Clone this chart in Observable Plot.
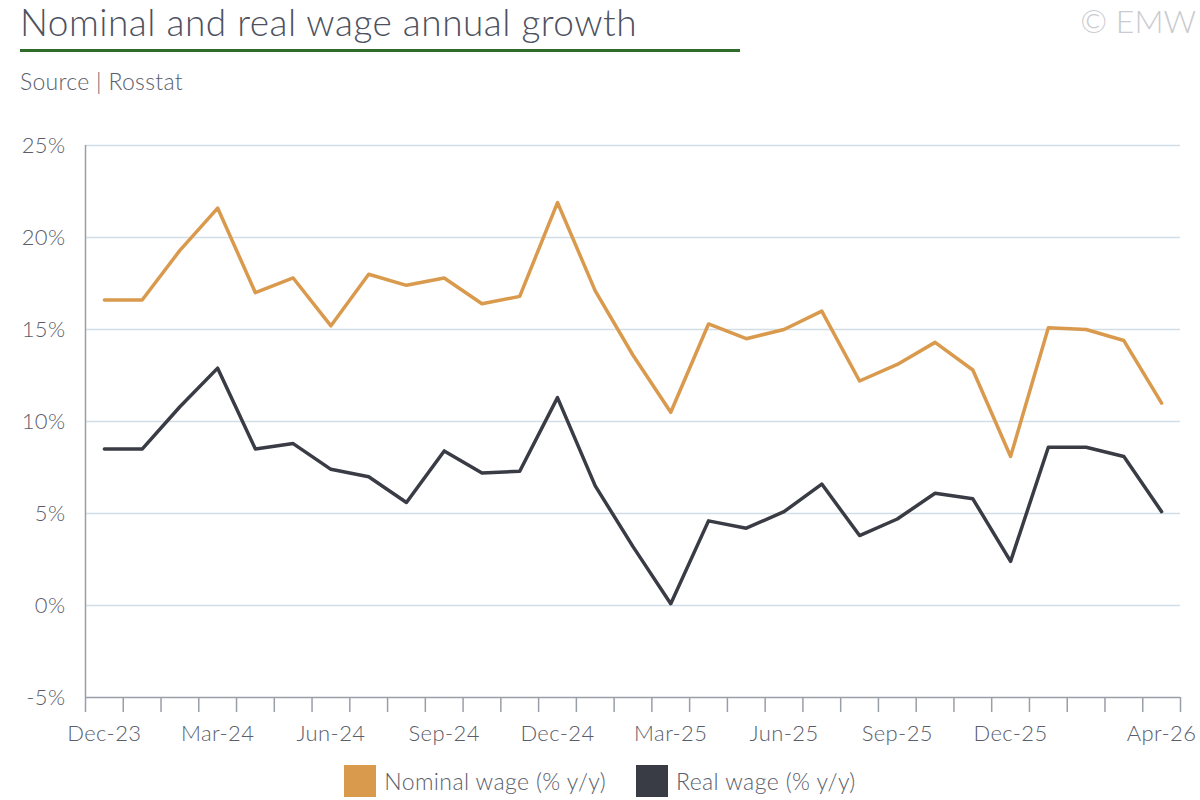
<!DOCTYPE html>
<html><head><meta charset="utf-8">
<script src="https://cdn.jsdelivr.net/npm/d3@7"></script>
<script src="https://cdn.jsdelivr.net/npm/@observablehq/plot@0.6"></script>
<style>
body{margin:0;background:#fff;font-family:Lato,sans-serif;color:#5a5e6b;}
#wrap{position:relative;width:1200px;height:800px;}
#title{position:absolute;left:20px;top:1px;font-size:37px;line-height:42px;font-weight:300;color:#4d5160;letter-spacing:0.5px;}
#rule{position:absolute;left:20px;top:49px;width:720px;height:3px;background:#2f6b2a;}
#src{position:absolute;left:20px;top:67px;font-size:23px;font-weight:300;letter-spacing:0.3px;}
#copy{position:absolute;right:4px;top:2px;font-size:32px;line-height:38px;font-weight:300;color:#c9cbd0;}
#chart{position:absolute;left:0;top:120px;}
#legend{position:absolute;left:0;width:1200px;top:767px;display:flex;justify-content:center;gap:30px;font-size:23px;font-weight:300;letter-spacing:0.4px;}
.sw{display:inline-block;width:32px;height:32px;vertical-align:middle;margin-right:8px;position:relative;top:-3px}
</style></head><body>
<div id="wrap">
<div id="title">Nominal and real wage annual growth</div>
<div id="rule"></div>
<div id="src">Source | Rosstat</div>
<div id="copy">© EMW</div>
<div id="chart"></div>
<div id="legend"><span><span class="sw" style="background:#d99a4e"></span>Nominal wage (% y/y)</span><span><span class="sw" style="background:#3a3c45"></span>Real wage (% y/y)</span></div>
</div>
<script>
const months = ["Dec-23","Jan-24","Feb-24","Mar-24","Apr-24","May-24","Jun-24","Jul-24","Aug-24","Sep-24","Oct-24","Nov-24","Dec-24","Jan-25","Feb-25","Mar-25","Apr-25","May-25","Jun-25","Jul-25","Aug-25","Sep-25","Oct-25","Nov-25","Dec-25","Jan-26","Feb-26","Mar-26","Apr-26"];
const nominal = [16.6,16.6,19.3,21.6,17.0,17.8,15.2,18.0,17.4,17.8,16.4,16.8,21.9,17.1,13.6,10.5,15.3,14.5,15.0,16.0,12.2,13.1,14.3,12.8,8.1,15.1,15.0,14.4,11.0];
const real = [8.5,8.5,10.8,12.9,8.5,8.8,7.4,7.0,5.6,8.4,7.2,7.3,11.3,6.5,3.2,0.1,4.6,4.2,5.1,6.6,3.8,4.7,6.1,5.8,2.4,8.6,8.6,8.1,5.1];
const xLabels = ["Dec-23","Mar-24","Jun-24","Sep-24","Dec-24","Mar-25","Jun-25","Sep-25","Dec-25","Apr-26"];
const yTicks = [-5,0,5,10,15,20,25];

const nd = months.map((m,i)=>({i,v:nominal[i]}));
const rd = months.map((m,i)=>({i,v:real[i]}));
const lblIdx = xLabels.map(l=>months.indexOf(l));
const bounds = d3.range(0,months.length+1).map(k=>k-0.5);
const axisColor = "#9a9ea8";

const chart = Plot.plot({
  width:1200,height:640,
  marginLeft:85,marginRight:20,marginTop:25,marginBottom:63,
  style:{fontFamily:"Lato,sans-serif",fontSize:"22px",color:"#5a5e6b",letterSpacing:"0.4px"},
  x:{type:"linear",domain:[-0.5,months.length-0.5]},
  y:{type:"linear",domain:[-5,25]},
  marks:[
    Plot.gridY(yTicks.filter(t=>t>-5),{stroke:"#d3dde6",strokeOpacity:1,strokeWidth:1.5}),
    Plot.axisY(yTicks,{tickSize:0,tickPadding:20,tickFormat:d=>d+"%",fontSize:22,fontWeight:300,fill:"#5a5e6b",label:null}),
    Plot.axisX(bounds,{tickSize:15,tickFormat:()=>"",stroke:axisColor,strokeWidth:1.5,label:null}),
    Plot.axisX(lblIdx,{tickSize:0,tickPadding:28,tickFormat:d=>months[d],fontSize:22,fontWeight:300,fill:"#5a5e6b",label:null}),
    Plot.ruleX([-0.5],{stroke:axisColor,strokeWidth:1.5}),
    Plot.ruleY([-5],{stroke:axisColor,strokeWidth:1.5}),
    Plot.line(nd,{x:"i",y:"v",stroke:"#d99a4e",strokeWidth:3.5}),
    Plot.line(rd,{x:"i",y:"v",stroke:"#3a3c45",strokeWidth:3.5})
  ]
});
document.getElementById("chart").append(chart);
</script>
</body></html>
